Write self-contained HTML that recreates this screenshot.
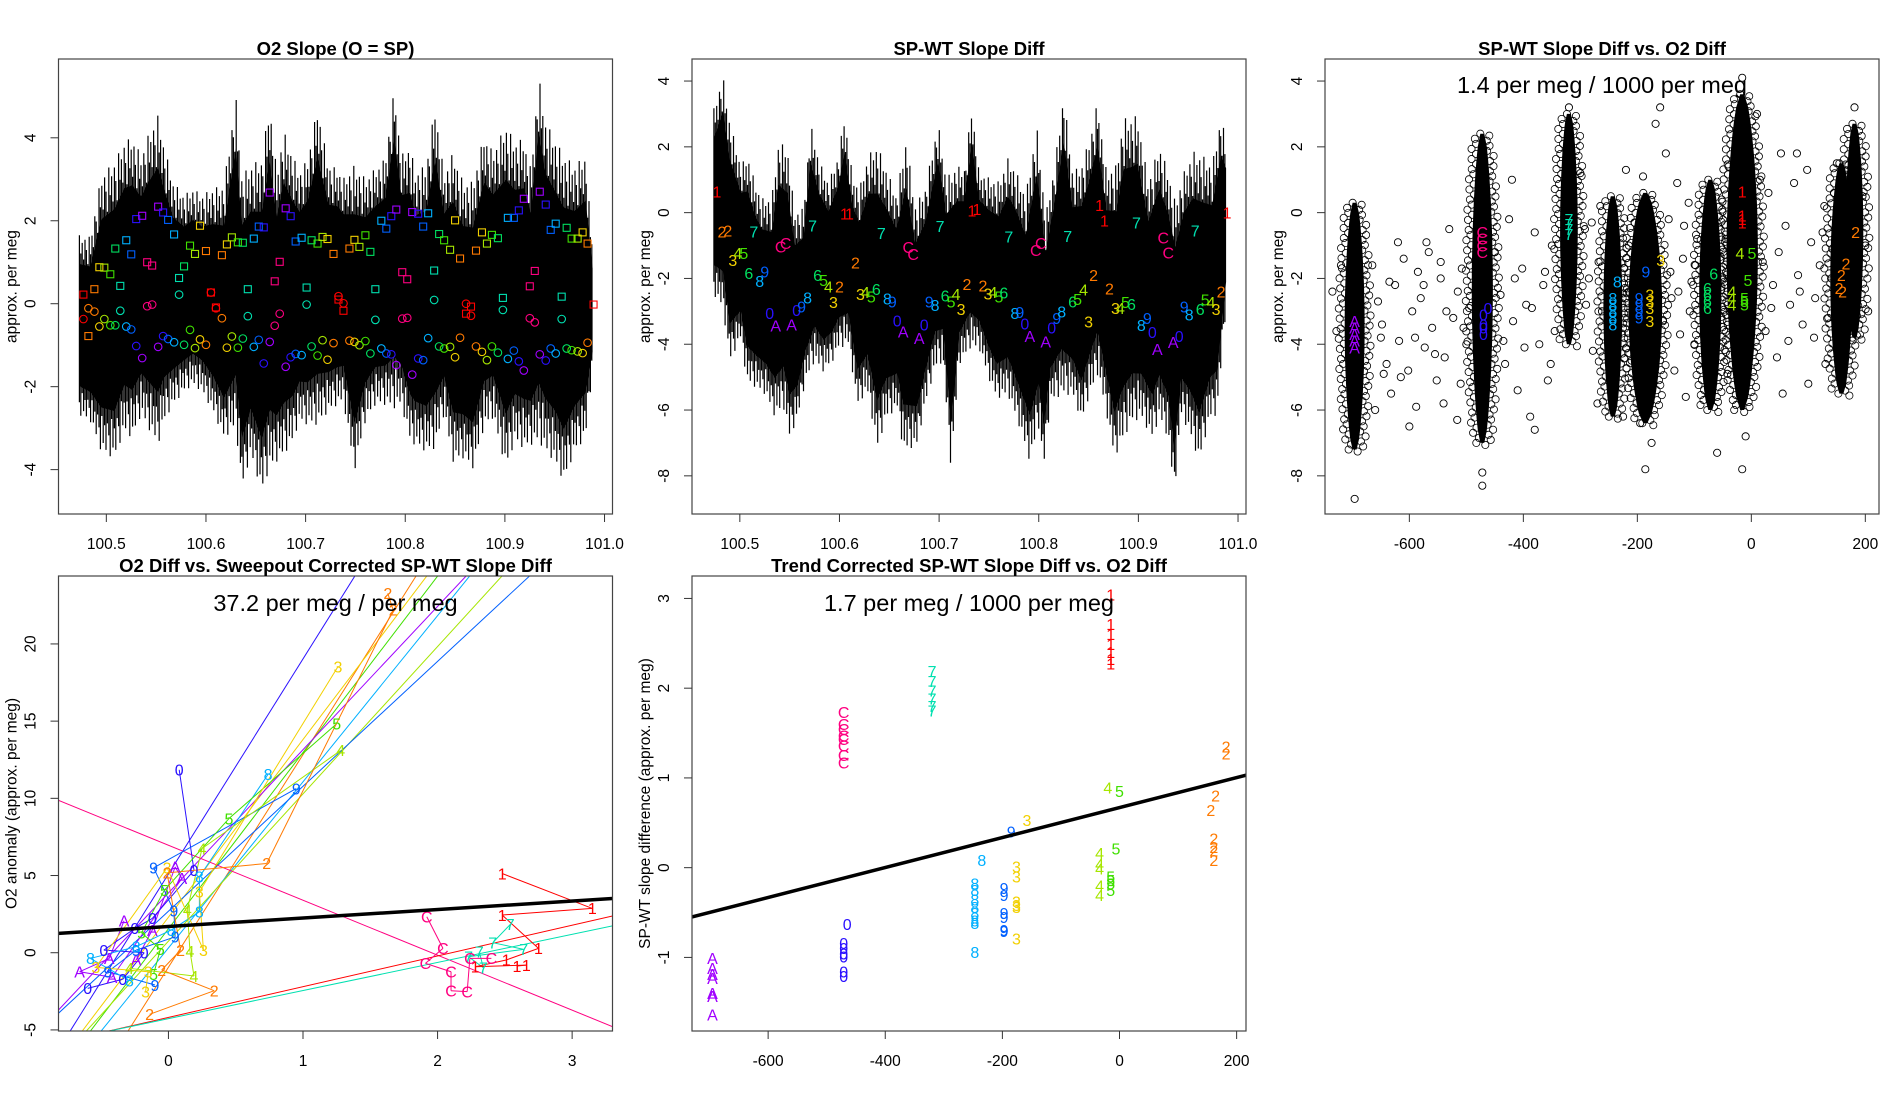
<!DOCTYPE html>
<html><head><meta charset="utf-8">
<style>
html,body{margin:0;padding:0;background:#fff;}
svg{display:block;}
text{font-family:"Liberation Sans",Arial,sans-serif;}
</style></head>
<body>
<svg id="chart" xmlns="http://www.w3.org/2000/svg" width="1900" height="1100" viewBox="0 0 1900 1100">
<rect x="0" y="0" width="1900" height="1100" fill="#fff"/>
</svg>
<script>
// ---------- shared ----------
const labelColors = {'1':'#FF0000','2':'#FF7A00','3':'#F2D000','4':'#A6E600','5':'#40E000','6':'#00E060','7':'#00E0B0','8':'#00B0FF','9':'#0060FF','0':'#2A10FF','A':'#A000FF','C':'#FF0080'};
const timeX = [100.477,100.482,100.488,100.493,100.498,100.504,100.509,100.514,100.520,100.525,100.530,100.536,100.541,100.546,100.552,100.557,100.562,100.568,100.573,100.578,100.584,100.589,100.594,100.600,100.605,100.610,100.616,100.621,100.626,100.632,100.637,100.642,100.648,100.653,100.658,100.664,100.669,100.674,100.680,100.685,100.690,100.696,100.701,100.706,100.712,100.717,100.722,100.728,100.733,100.738,100.744,100.749,100.754,100.760,100.765,100.770,100.776,100.781,100.786,100.791,100.797,100.802,100.807,100.813,100.818,100.823,100.829,100.834,100.839,100.845,100.850,100.855,100.861,100.866,100.871,100.877,100.882,100.887,100.893,100.898,100.903,100.909,100.914,100.919,100.925,100.930,100.935,100.941,100.946,100.951,100.957,100.962,100.967,100.973,100.978,100.983,100.989];
const groupChars = ['1','2','2','3','4','5','6','7','8','9','0','A','C','C','A','0','9','8','7','6','5','4','3','2',
 '1','1','2','3','4','5','6','7','8','9','0','A','C','C','A','0','9','8','7','6','5','4','3','2',
 '1','1','2','3','4','5','6','7','8','9','0','A','C','C','A','0','9','8','7','6','5','4','3','2',
 '1','1','2','3','4','5','6','7','8','9','0','A','C','C','A','0','9','8','7','6','5','4','3','2','1'];

// ---------- panel 1 data ----------
const p1SquareY = [0.22,-0.78,0.35,0.88,0.87,0.71,1.33,0.43,1.53,1.19,2.04,2.12,1.00,0.92,2.34,2.20,2.02,1.67,0.62,0.90,1.40,1.20,1.88,1.27,0.27,-0.09,1.17,1.43,1.60,1.48,1.47,0.35,1.57,1.86,1.84,2.68,0.54,1.01,2.30,2.11,1.50,1.59,0.39,1.53,1.45,1.61,1.56,1.20,0.10,-0.17,1.33,1.54,1.37,1.65,1.25,0.35,2.00,1.81,2.11,2.27,0.76,0.59,2.21,2.17,1.86,2.18,0.80,1.68,1.53,1.30,2.01,1.09,-0.24,-0.07,1.28,1.72,1.45,1.66,1.58,0.14,2.07,2.07,2.25,2.53,0.42,0.79,2.70,2.39,1.78,1.93,0.17,1.83,1.57,1.57,1.72,1.45,-0.02];
const p1CircleY = [-0.37,-0.11,-0.19,-0.55,-0.37,-0.52,-0.52,-0.17,-0.55,-0.62,-1.02,-1.31,-0.06,-0.02,-1.04,-0.78,-0.85,-0.93,0.22,-0.99,-0.63,-1.07,-0.86,-0.99,0.27,-0.11,-0.35,-1.06,-0.79,-1.06,-0.84,-0.30,-1.04,-0.87,-1.44,-0.92,-0.53,-0.24,-1.52,-1.29,-1.21,-1.24,-0.02,-1.03,-1.25,-0.88,-1.35,-0.95,0.18,0.01,-0.89,-0.92,-1.00,-0.90,-1.20,-0.39,-1.08,-1.20,-1.22,-1.48,-0.36,-0.34,-1.71,-1.32,-1.36,-0.83,0.09,-1.03,-1.08,-1.04,-1.29,-0.82,0.00,-0.29,-1.03,-1.16,-1.36,-1.03,-1.18,-0.15,-1.33,-1.13,-1.39,-1.61,-0.35,-0.45,-1.22,-1.37,-1.08,-1.20,-0.37,-1.08,-1.12,-1.15,-1.19,-0.94];
const p1EnvX = [100.473,100.484,100.495,100.508,100.518,100.526,100.535,100.542,100.552,100.558,100.567,100.578,100.587,100.596,100.607,100.618,100.630,100.636,100.645,100.656,100.664,100.671,100.678,100.687,100.694,100.702,100.712,100.723,100.732,100.738,100.749,100.760,100.770,100.780,100.789,100.796,100.805,100.810,100.821,100.830,100.839,100.848,100.858,100.868,100.879,100.888,100.901,100.910,100.919,100.926,100.934,100.941,100.950,100.959,100.970,100.981,100.988];
const p1EnvHi = [1.65,1.61,3.10,3.42,3.90,4.02,3.58,4.06,4.55,3.82,2.94,2.62,2.78,2.62,2.78,2.86,5.03,3.10,3.34,3.50,4.87,3.18,4.18,3.58,3.18,3.50,4.75,3.34,3.26,3.02,3.34,3.02,3.26,3.50,5.19,3.58,3.82,3.18,3.34,4.79,3.10,3.66,2.94,2.94,4.06,3.66,4.31,3.90,3.98,3.26,5.51,4.39,3.98,3.58,3.34,3.58,1.33];
const p1EnvLo = [-2.68,-2.84,-3.57,-3.73,-3.08,-3.24,-2.68,-3.00,-3.41,-2.84,-2.44,-2.12,-1.96,-2.12,-2.60,-3.24,-3.00,-4.45,-3.65,-4.53,-3.97,-3.81,-3.65,-3.33,-2.84,-2.92,-2.92,-2.60,-2.44,-2.36,-4.05,-2.84,-2.44,-2.44,-2.52,-2.44,-3.33,-3.41,-3.57,-3.49,-2.68,-3.81,-3.73,-3.97,-3.00,-2.76,-3.97,-3.33,-3.49,-3.41,-3.33,-3.57,-3.81,-4.29,-3.57,-3.24,-1.64];

// ---------- panel 2 data ----------
const p2LabelY = [0.64,-0.58,-0.55,-1.44,-1.24,-1.24,-1.84,-0.58,-2.08,-1.79,-3.06,-3.44,-1.04,-0.93,-3.40,-2.96,-2.86,-2.58,-0.40,-1.90,-2.05,-2.25,-2.73,-2.25,-0.04,-0.04,-1.52,-2.48,-2.42,-2.55,-2.33,-0.63,-2.61,-2.71,-3.28,-3.62,-1.05,-1.26,-3.82,-3.40,-2.71,-2.81,-0.41,-2.52,-2.71,-2.48,-2.93,-2.18,0.06,0.11,-2.22,-2.47,-2.42,-2.55,-2.43,-0.73,-3.06,-3.03,-3.37,-3.75,-1.14,-0.93,-3.92,-3.50,-3.21,-3.01,-0.71,-2.71,-2.63,-2.35,-3.31,-1.90,0.23,-0.24,-2.32,-2.91,-2.91,-2.73,-2.79,-0.30,-3.42,-3.21,-3.64,-4.15,-0.76,-1.22,-3.94,-3.75,-2.86,-3.11,-0.55,-2.93,-2.64,-2.73,-2.93,-2.40,0.00];
const p2TopX = [100.474,100.483,100.490,100.501,100.508,100.515,100.522,100.532,100.539,100.548,100.555,100.564,100.571,100.580,100.589,100.599,100.605,100.613,100.620,100.629,100.638,100.647,100.657,100.667,100.676,100.686,100.699,100.707,100.718,100.725,100.733,100.740,100.751,100.760,100.769,100.776,100.787,100.798,100.807,100.816,100.825,100.834,100.843,100.852,100.859,100.868,100.878,100.885,100.894,100.899,100.910,100.921,100.930,100.937,100.946,100.955,100.964,100.974,100.983,100.988];
const p2TopY = [3.17,4.19,2.77,1.45,1.75,0.94,0.44,0.44,2.16,1.96,0.03,0.13,2.72,1.55,0.94,1.75,2.97,1.15,0.74,1.75,2.06,1.35,0.54,2.26,0.23,0.74,2.77,1.04,1.45,1.25,3.27,1.25,1.04,0.94,1.65,1.35,0.54,2.67,-0.07,1.45,3.63,1.25,1.45,2.36,3.38,1.25,1.45,2.87,2.87,2.97,0.94,2.06,1.25,0.33,1.25,1.86,1.75,1.45,2.97,2.16];
const p2BotX = [100.474,100.483,100.490,100.501,100.507,100.517,100.526,100.535,100.544,100.550,100.558,100.566,100.575,100.584,100.593,100.599,100.609,100.618,100.628,100.638,100.647,100.658,100.664,100.678,100.686,100.696,100.704,100.712,100.720,100.731,100.740,100.751,100.758,100.769,100.780,100.791,100.800,100.805,100.812,100.823,100.834,100.843,100.849,100.859,100.867,100.876,100.885,100.894,100.903,100.914,100.921,100.930,100.936,100.943,100.952,100.961,100.972,100.979,100.988];
const p2BotY = [-2.50,-2.91,-4.53,-3.82,-5.14,-5.34,-5.54,-6.20,-5.95,-6.86,-6.25,-5.14,-4.53,-4.84,-4.53,-4.13,-4.02,-5.85,-5.44,-7.17,-6.25,-5.95,-7.27,-7.07,-5.85,-4.73,-4.53,-7.83,-4.63,-4.13,-4.13,-5.14,-5.65,-5.54,-6.46,-7.57,-6.56,-7.77,-5.75,-5.54,-5.54,-6.36,-5.75,-4.94,-5.95,-7.47,-6.86,-6.36,-6.25,-6.86,-6.25,-6.86,-8.59,-6.15,-6.76,-7.57,-6.25,-6.15,-2.91];

// ---------- panel 3 data ----------
const p3ColX = [-696,-472,-320,-243,-186,-72,-16,158,181];
const p3ColHalfW = [14,15,12,13,26,16,24,16,12];
const p3ColTop = [0.3,2.4,3.0,0.5,0.6,1.0,3.6,1.5,2.7];
const p3ColBot = [-7.2,-7.0,-4.0,-6.2,-6.4,-6.0,-6.0,-5.5,-3.8];
const p3ScatX = [-665,-655,-648,-640,-632,-625,-618,-610,-602,-595,-588,-580,-573,-566,-560,-552,-545,-538,-530,-523,-516,-508,-500,-495,-660,-600,-570,-540,-510,-620,
 -450,-440,-432,-425,-418,-410,-402,-395,-388,-380,-372,-365,-357,-350,-345,-420,-380,
 -300,-292,-285,-278,-270,-265,-262,-220,-215,-210,-225,-150,-145,-140,-135,-130,-125,-120,-115,-110,-105,-100,-95,-168,-160,-190,-175,-195,
 -45,-40,-38,15,20,25,30,38,45,52,60,68,75,82,90,98,105,112,120,128,135,142,150,10,55,100,130,-10,-60,80,
 -720,-735,-728,200,205,195,-696,-472,-472,-186,-16,-16,181,-320,
 -650,-635,-615,-590,-575,-555,-535,-515,-505,-645,-585,-545,-435,-415,-398,-385,-362,-352,-290,-280,-268,-215,-205,-155,-142,-128,-118,-108,-98,-50,-42,35,48,65,85,110,125,140,145];
const p3ScatY = [-1.6,-2.7,-3.4,-4.6,-5.5,-2.2,-3.9,-1.4,-4.8,-3.0,-5.9,-2.6,-4.1,-1.2,-3.5,-5.1,-2.0,-4.4,-0.5,-3.2,-6.3,-1.7,-4.0,-2.9,-6.0,-6.5,-0.9,-5.8,-5.2,-0.9,
 -1.2,-2.5,-4.6,-0.2,-3.3,-5.4,-1.7,-2.8,-6.2,-0.6,-4.0,-2.2,-5.1,-1.0,-3.6,1.0,-6.6,
 1.2,-0.5,-2.0,-4.2,-5.8,0.2,-3.0,1.3,-1.0,-4.5,-6.2,1.8,-0.2,-2.6,-4.8,0.9,-3.7,-1.4,-5.6,0.3,-2.1,-4.0,-0.8,2.7,3.2,1.1,-7.0,-6.4,
 -0.8,1.4,-3.0,1.0,-1.5,-3.6,0.6,-2.2,-4.4,1.8,-0.4,-2.8,0.9,-1.9,-3.4,1.3,-0.9,-2.6,-1.6,0.2,-3.2,-1.1,1.5,3.0,-5.5,-5.2,-4.6,-6.8,-7.3,1.8,
 -1.6,-2.4,-3.6,-1.0,-3.0,0.5,-8.7,-7.9,-8.3,-7.8,-7.8,4.1,3.2,3.2,
 -3.8,-2.1,-5.0,-3.8,-2.2,-4.3,-3.0,-2.4,-3.5,-4.9,-1.8,-1.5,-3.9,-2.0,-4.1,-2.9,-1.8,-4.6,-2.8,-0.3,-1.5,-2.4,-0.3,-3.3,-1.8,-2.4,-0.4,-3.0,-1.6,-2.0,-4.9,-2.9,-1.2,-3.9,-2.4,-3.8,-0.6,-2.0,0.6];
const p3Chars = ['A','A','A','A','A','C','C','C','C','0','0','0','0','0','7','7','7','7','8','8','8','8','8','8','9','9','9','9','9','3','3','3','3','3','6','6','6','6','6','4','4','4','4','5','5','5','5','5','1','1','1','1','2','2','2','2','2'];
const p3X = [-696,-696,-696,-696,-696,-472,-472,-472,-472,-470,-470,-470,-470,-462,-320,-320,-320,-320,-243,-243,-243,-243,-243,-235,-197,-197,-197,-197,-185,-178,-178,-178,-178,-159,-77,-77,-77,-77,-66,-34,-34,-34,-20,-12,-12,-12,1,-6,-16,-16,-16,-16,183,166,158,154,160];
const p3Y = [-3.3,-3.5,-3.7,-3.9,-4.1,-0.6,-0.8,-1.0,-1.2,-3.1,-3.4,-3.7,-3.5,-2.9,-0.2,-0.35,-0.5,-0.65,-2.6,-2.8,-3.0,-3.2,-3.4,-2.1,-2.6,-2.8,-3.0,-3.2,-1.8,-2.5,-2.7,-2.9,-3.3,-1.44,-2.3,-2.5,-2.7,-2.9,-1.85,-2.4,-2.6,-2.8,-1.24,-2.6,-2.7,-2.8,-1.24,-2.05,0.64,-0.1,-0.2,-0.3,-0.6,-1.55,-1.9,-2.3,-2.4];

// ---------- panel 4 data ----------
const p4Chars = ['A','A','A','A','A','A','A','A','0','0','0','0','0','0','0','0','9','9','9','9','9','9','9','8','8','8','8','8','8','8','5','5','5','5','5','5','4','4','4','4','4','4','3','3','3','3','3','3','3','2','2','2','2','2','2','2','2','7','7','7','7','7','7','1','1','1','1','1','1','1','1','C','C','C','C','C','C','C','C'];
const p4X = [-0.33,-0.44,-0.66,-0.42,0.10,0.05,-0.12,-0.24, 0.08,0.19,-0.12,-0.25,-0.48,-0.18,-0.34,-0.60, 0.95,-0.11,0.04,0.05,-0.24,-0.45,-0.10, 0.74,0.23,0.23,0.02,-0.24,-0.58,-0.29, 1.25,0.45,-0.03,-0.20,-0.06,-0.11, 1.28,0.25,0.14,0.16,0.19,-0.29, 1.26,0.23,0.26,-0.01,-0.54,-0.15,-0.17, 1.63,1.67,0.73,-0.01,0.09,-0.05,0.34,-0.14, 2.54,2.41,2.64,2.23,2.34,2.31, 2.48,3.15,2.48,2.75,2.51,2.28,2.66,2.59, 1.92,2.04,1.91,2.10,2.10,2.22,2.24,2.40];
const p4Y = [2.07,-0.37,-1.23,-1.59,4.81,5.56,1.47,-0.47, 11.85,5.34,2.22,1.57,0.17,0.00,-1.72,-2.31, 10.63,5.50,2.72,1.03,0.17,-1.23,-2.09, 11.55,4.91,2.65,1.47,0.39,-0.37,-1.81, 14.83,8.69,4.05,1.29,0.22,-1.38, 13.10,6.75,2.80,0.11,-1.51,-1.01, 18.53,3.94,0.17,5.50,-0.95,-1.23,-2.52, 23.28,22.2,5.78,5.17,0.17,-1.12,-2.46,-3.99, 1.83,0.65,0.22,-0.26,-0.97,0.06, 5.13,2.87,2.44,0.28,-0.47,-0.91,-0.80,-0.86, 2.33,0.28,-0.69,-1.23,-2.46,-2.52,-0.37,-0.37];
const p4FitChars = ['0','2','3','5','8','4','A','9','C','1','7'];
const p4FitSlope = [13.93,13.77,11.51,11.42,10.76,9.54,9.28,8.09,-3.56,1.99,1.82];
const p4FitIntercept = [5.10,-0.94,2.30,1.55,0.31,0.75,3.87,2.69,6.96,-4.19,-4.27];
const p4TrendSlope = 0.549;
const p4TrendIntercept = 1.70;

// ---------- panel 5 data ----------
const p5Chars = ['A','A','A','A','A','A','A','C','C','C','C','C','C','C','C','0','0','0','0','0','0','0','7','7','7','7','7','7','1','1','1','1','1','1','1','8','8','8','8','8','8','8','8','8','9','9','9','9','9','9','9','3','3','3','3','3','3','3','4','4','4','4','4','4','5','5','5','5','5','5','2','2','2','2','2','2','2','2'];
const p5X = [-695,-695,-695,-695,-695,-695,-695,-471,-471,-471,-471,-471,-471,-471,-471,-465,-471,-471,-471,-471,-471,-471,-320,-320,-320,-320,-320,-320,-15,-15,-15,-15,-15,-15,-15,-235,-247,-247,-247,-247,-247,-247,-247,-247,-185,-197,-197,-197,-197,-197,-197,-158,-176,-176,-176,-176,-176,-176,-20,-34,-34,-34,-34,-34,0,-6,-15,-15,-15,-15,182,182,164,156,161,161,161,161];
const p5Y = [-1.01,-1.12,-1.19,-1.23,-1.40,-1.43,-1.64,1.73,1.60,1.54,1.47,1.43,1.36,1.25,1.17,-0.63,-0.84,-0.90,-0.96,-0.99,-1.16,-1.21,2.19,2.08,1.97,1.88,1.80,1.75,3.04,2.71,2.60,2.49,2.40,2.32,2.27,0.08,-0.18,-0.25,-0.36,-0.44,-0.51,-0.59,-0.62,-0.94,0.40,-0.23,-0.31,-0.51,-0.55,-0.70,-0.71,0.53,0.01,-0.10,-0.38,-0.42,-0.44,-0.79,0.89,0.16,0.04,-0.01,-0.20,-0.31,0.85,0.21,-0.10,-0.14,-0.18,-0.25,1.35,1.27,0.80,0.64,0.32,0.23,0.19,0.08];
const p5TrendSlope = 0.00167;
const p5TrendIntercept = 0.67;

// ---------- drawing helpers ----------
const NS = 'http://www.w3.org/2000/svg';
const svg = document.getElementById('chart');
const TICK_FS = 15.5, TITLE_FS = 18.5, ANN_FS = 23.5, LAB_FS = 16;
function el(tag, attrs, parent) {
  const e = document.createElementNS(NS, tag);
  for (const k in attrs) e.setAttribute(k, attrs[k]);
  (parent || svg).appendChild(e);
  return e;
}
function makePanel(name, x0, y0, w, h, xd, yd) {
  const g = el('g', {});
  
  
  const cp = el('clipPath', {id: 'clip-' + name}, g);
  el('rect', {x: x0, y: y0, width: w, height: h}, cp);
  const plot = el('g', {'clip-path': 'url(#clip-' + name + ')'}, g);
  
  
  const sx = v => x0 + (v - xd[0]) / (xd[1] - xd[0]) * w;
  const sy = v => y0 + h - (v - yd[0]) / (yd[1] - yd[0]) * h;
  return {g, plot, sx, sy, x0, y0, w, h};
}
function frame(P, title, titleY, xTicks, xLabels, yTicks, yLabels, yTitle) {
  const b = el('rect', {x: P.x0, y: P.y0, width: P.w, height: P.h, fill: 'none', stroke: '#444', 'stroke-width': 1.2}, P.g);
  
  
  const t = el('text', {x: P.x0 + P.w / 2, y: titleY, 'text-anchor': 'middle', 'font-size': TITLE_FS, 'font-weight': 'bold', fill: '#000'}, P.g);
  t.textContent = title;
  
  
  const yb = P.y0 + P.h;
  const xa = el('g', {}, P.g);
  
  
  xTicks.forEach((v, i) => {
    const x = P.sx(v);
    el('line', {x1: x, y1: yb, x2: x, y2: yb + 8, stroke: '#333', 'stroke-width': 1}, xa);
    const tl = el('text', {x: x, y: yb + 35, 'text-anchor': 'middle', 'font-size': TICK_FS, fill: '#000'}, xa);
    tl.textContent = xLabels[i];
    
    
  });
  const ya = el('g', {}, P.g);
  
  
  yTicks.forEach((v, i) => {
    const y = P.sy(v);
    el('line', {x1: P.x0, y1: y, x2: P.x0 - 8, y2: y, stroke: '#333', 'stroke-width': 1}, ya);
    const lx = P.x0 - 23;
    const tl = el('text', {x: lx, y: y, 'text-anchor': 'middle', 'font-size': TICK_FS, fill: '#000', transform: 'rotate(-90 ' + lx + ' ' + y + ')'}, ya);
    tl.textContent = yLabels[i];
    
    
  });
  const tx = P.x0 - 42, ty = P.y0 + P.h / 2;
  const yt = el('text', {x: tx, y: ty, 'text-anchor': 'middle', 'font-size': TICK_FS, fill: '#000', transform: 'rotate(-90 ' + tx + ' ' + ty + ')'}, P.g);
  yt.textContent = yTitle;
  
  
}
function annotation(P, txt, y) {
  const a = el('text', {x: P.x0 + P.w / 2, y: y, 'text-anchor': 'middle', 'font-size': ANN_FS, fill: '#000'}, P.g);
  a.textContent = txt;
  
  
}
function lerpArr(xs, ys, x) {
  if (x <= xs[0]) return ys[0];
  for (let i = 1; i < xs.length; i++) if (x <= xs[i]) { const t = (x - xs[i-1]) / (xs[i] - xs[i-1]); return ys[i-1] + t * (ys[i] - ys[i-1]); }
  return ys[ys.length - 1];
}
function band(P, topX, topY, botX, botY) {
  const core = [];
  const coreB = [];
  for (let i = 0; i < topX.length; i++) {
    const mid = (topY[i] + lerpArr(botX, botY, topX[i])) / 2;
    core.push(P.sx(topX[i]).toFixed(1) + ',' + P.sy(mid + 0.68 * (topY[i] - mid)).toFixed(1));
  }
  for (let i = botX.length - 1; i >= 0; i--) {
    const mid = (botY[i] + lerpArr(topX, topY, botX[i])) / 2;
    coreB.push(P.sx(botX[i]).toFixed(1) + ',' + P.sy(mid + 0.68 * (botY[i] - mid)).toFixed(1));
  }
  const pg = el('polygon', {points: core.concat(coreB).join(' '), fill: '#000'}, P.plot);
  
  
  const x0 = Math.max(topX[0], botX[0]), x1 = Math.min(topX[topX.length-1], botX[botX.length-1]);
  const px0 = P.sx(x0), px1 = P.sx(x1);
  const spikes = el('g', {}, P.plot);
  
  
  let d = '';
  let n = 0;
  for (let px = px0; px <= px1; px += 1.4, n++) {
    const xv = x0 + (px - px0) / (px1 - px0) * (x1 - x0);
    const hi = lerpArr(topX, topY, xv), lo = lerpArr(botX, botY, xv);
    const mid = (hi + lo) / 2;
    const fh = [1, 0.8, 0.92, 0.74, 0.96, 0.85, 0.7][n % 7];
    const fl = [0.86, 1, 0.74, 0.93, 0.8, 0.97, 0.78][n % 7];
    d += 'M' + px.toFixed(1) + ' ' + P.sy(mid + fh * (hi - mid)).toFixed(1) + 'V' + P.sy(mid + fl * (lo - mid)).toFixed(1);
  }
  el('path', {d: d, stroke: '#000', 'stroke-width': 1.2, fill: 'none'}, spikes);
}
function labelText(P, ch, x, y, size, name) {
  const t = el('text', {x: P.sx(x), y: P.sy(y) + size * 0.36, 'text-anchor': 'middle', 'font-size': size, fill: labelColors[ch]}, P.plot);
  t.textContent = ch;
  
  
}

// ---------- panel 1 ----------
const P1 = makePanel('panel-o2-slope', 58.5, 59, 554, 455, [100.452, 101.008], [-5.07, 5.90]);
band(P1, p1EnvX, p1EnvHi, p1EnvX, p1EnvLo);
timeX.forEach((x, k) => {
  const c = labelColors[groupChars[k]];
  if (p1SquareY[k] !== undefined && p1SquareY[k] !== null) {
    const r = el('rect', {x: P1.sx(x) - 3.5, y: P1.sy(p1SquareY[k]) - 3.5, width: 7, height: 7, fill: 'none', stroke: c, 'stroke-width': 1.1}, P1.plot);
    
    
  }
  if (p1CircleY[k] !== undefined && p1CircleY[k] !== null) {
    const ci = el('circle', {cx: P1.sx(x), cy: P1.sy(p1CircleY[k]), r: 3.8, fill: 'none', stroke: c, 'stroke-width': 1.1}, P1.plot);
    
    
  }
});
frame(P1, 'O2 Slope (O = SP)', 55, [100.5,100.6,100.7,100.8,100.9,101.0], ['100.5','100.6','100.7','100.8','100.9','101.0'], [-4,-2,0,2,4], ['-4','-2','0','2','4'], 'approx. per meg');

// ---------- panel 2 ----------
const P2 = makePanel('panel-spwt-slope-diff', 692, 59, 554, 455, [100.452, 101.008], [-9.16, 4.67]);
band(P2, p2TopX, p2TopY, p2BotX, p2BotY);
timeX.forEach((x, k) => {
  if (p2LabelY[k] === undefined) return;
  labelText(P2, groupChars[k], x, p2LabelY[k], LAB_FS, 'group-label');
});
frame(P2, 'SP-WT Slope Diff', 55, [100.5,100.6,100.7,100.8,100.9,101.0], ['100.5','100.6','100.7','100.8','100.9','101.0'], [-8,-6,-4,-2,0,2,4], ['-8','-6','-4','-2','0','2','4'], 'approx. per meg');

// ---------- panel 3 ----------
const P3 = makePanel('panel-slope-vs-o2', 1325, 59, 554, 455, [-748, 224], [-9.16, 4.67]);
p3ColX.forEach((cx, i) => {
  const top = P3.sy(p3ColTop[i]), bot = P3.sy(p3ColBot[i]);
  const hw = Math.abs(P3.sx(cx + p3ColHalfW[i]) - P3.sx(cx));
  const c = P3.sx(cx);
  const n = 24; let L = [], R = [];
  const rings = el('g', {}, P3.plot);
  
  
  for (let j = 0; j <= n; j++) {
    const t = j / n;
    const wv = hw * Math.pow(Math.sin(Math.PI * t), 0.6) + 2;
    const y = top + (bot - top) * t;
    L.push((c - wv).toFixed(1) + ',' + y.toFixed(1));
    R.unshift((c + wv).toFixed(1) + ',' + y.toFixed(1));
  }
  const steps = Math.floor((bot - top) / 5);
  for (let s = 0; s <= steps; s++) {
    const t = s / Math.max(steps, 1);
    const wv = hw * Math.pow(Math.sin(Math.PI * t), 0.6) + 2;
    const y = top + (bot - top) * t;
    const off = [3, 7, 5, 9, 4, 8][s % 6];
    el('circle', {cx: c - wv - off + 3, cy: y, r: 3.6, fill: 'none', stroke: '#000', 'stroke-width': 0.8}, rings);
    el('circle', {cx: c + wv + [8, 4, 6, 3, 9, 5][s % 6] - 3, cy: y + 2, r: 3.6, fill: 'none', stroke: '#000', 'stroke-width': 0.8}, rings);
  }
  const pg = el('polygon', {points: L.concat(R).join(' '), fill: '#000'}, P3.plot);
  
  
});
p3ScatX.forEach((x, i) => {
  const ci = el('circle', {cx: P3.sx(x), cy: P3.sy(p3ScatY[i]), r: 3.6, fill: 'none', stroke: '#000', 'stroke-width': 0.9}, P3.plot);
  
  
});
p3Chars.forEach((ch, i) => labelText(P3, ch, p3X[i], p3Y[i], LAB_FS, 'group-label'));
annotation(P3, '1.4 per meg / 1000 per meg', 93);
frame(P3, 'SP-WT Slope Diff vs. O2 Diff', 55, [-600,-400,-200,0,200], ['-600','-400','-200','0','200'], [-8,-6,-4,-2,0,2,4], ['-8','-6','-4','-2','0','2','4'], 'approx. per meg');

// ---------- panel 4 ----------
const P4 = makePanel('panel-o2-vs-sweepout', 58.5, 576, 554, 455, [-0.817, 3.30], [-5.07, 24.4]);
p4FitChars.forEach((ch, i) => {
  const xa = -0.817, xb = 3.30;
  const ln = el('line', {x1: P4.sx(xa), y1: P4.sy(p4FitIntercept[i] + p4FitSlope[i] * xa), x2: P4.sx(xb), y2: P4.sy(p4FitIntercept[i] + p4FitSlope[i] * xb), stroke: labelColors[ch], 'stroke-width': 1}, P4.plot);
  
  
});
{
  let prev = null;
  p4Chars.forEach((ch, i) => {
    if (prev !== null && p4Chars[prev] === ch) {
      const s = el('line', {x1: P4.sx(p4X[prev]), y1: P4.sy(p4Y[prev]), x2: P4.sx(p4X[i]), y2: P4.sy(p4Y[i]), stroke: labelColors[ch], 'stroke-width': 1}, P4.plot);
      
      
    }
    prev = i;
  });
}
p4Chars.forEach((ch, i) => labelText(P4, ch, p4X[i], p4Y[i], LAB_FS, 'group-label'));
{
  const xa = -0.817, xb = 3.30;
  const tl = el('line', {x1: P4.sx(xa), y1: P4.sy(p4TrendIntercept + p4TrendSlope * xa), x2: P4.sx(xb), y2: P4.sy(p4TrendIntercept + p4TrendSlope * xb), stroke: '#000', 'stroke-width': 3.5}, P4.plot);
  
  
}
annotation(P4, '37.2 per meg / per meg', 611);
frame(P4, 'O2 Diff vs. Sweepout Corrected SP-WT Slope Diff', 572, [0,1,2,3], ['0','1','2','3'], [-5,0,5,10,15,20], ['-5','0','5','10','15','20'], 'O2 anomaly (approx. per meg)');

// ---------- panel 5 ----------
const P5 = makePanel('panel-trend-corrected', 692, 576, 554, 455, [-730, 216], [-1.82, 3.25]);
p5Chars.forEach((ch, i) => labelText(P5, ch, p5X[i], p5Y[i], LAB_FS, 'group-label'));
{
  const xa = -730, xb = 216;
  const tl = el('line', {x1: P5.sx(xa), y1: P5.sy(p5TrendIntercept + p5TrendSlope * xa), x2: P5.sx(xb), y2: P5.sy(p5TrendIntercept + p5TrendSlope * xb), stroke: '#000', 'stroke-width': 3.5}, P5.plot);
  
  
}
annotation(P5, '1.7 per meg / 1000 per meg', 611);
frame(P5, 'Trend Corrected SP-WT Slope Diff vs. O2 Diff', 572, [-600,-400,-200,0,200], ['-600','-400','-200','0','200'], [-1,0,1,2,3], ['-1','0','1','2','3'], 'SP-WT slope difference (approx. per meg)');
</script>
</body></html>
